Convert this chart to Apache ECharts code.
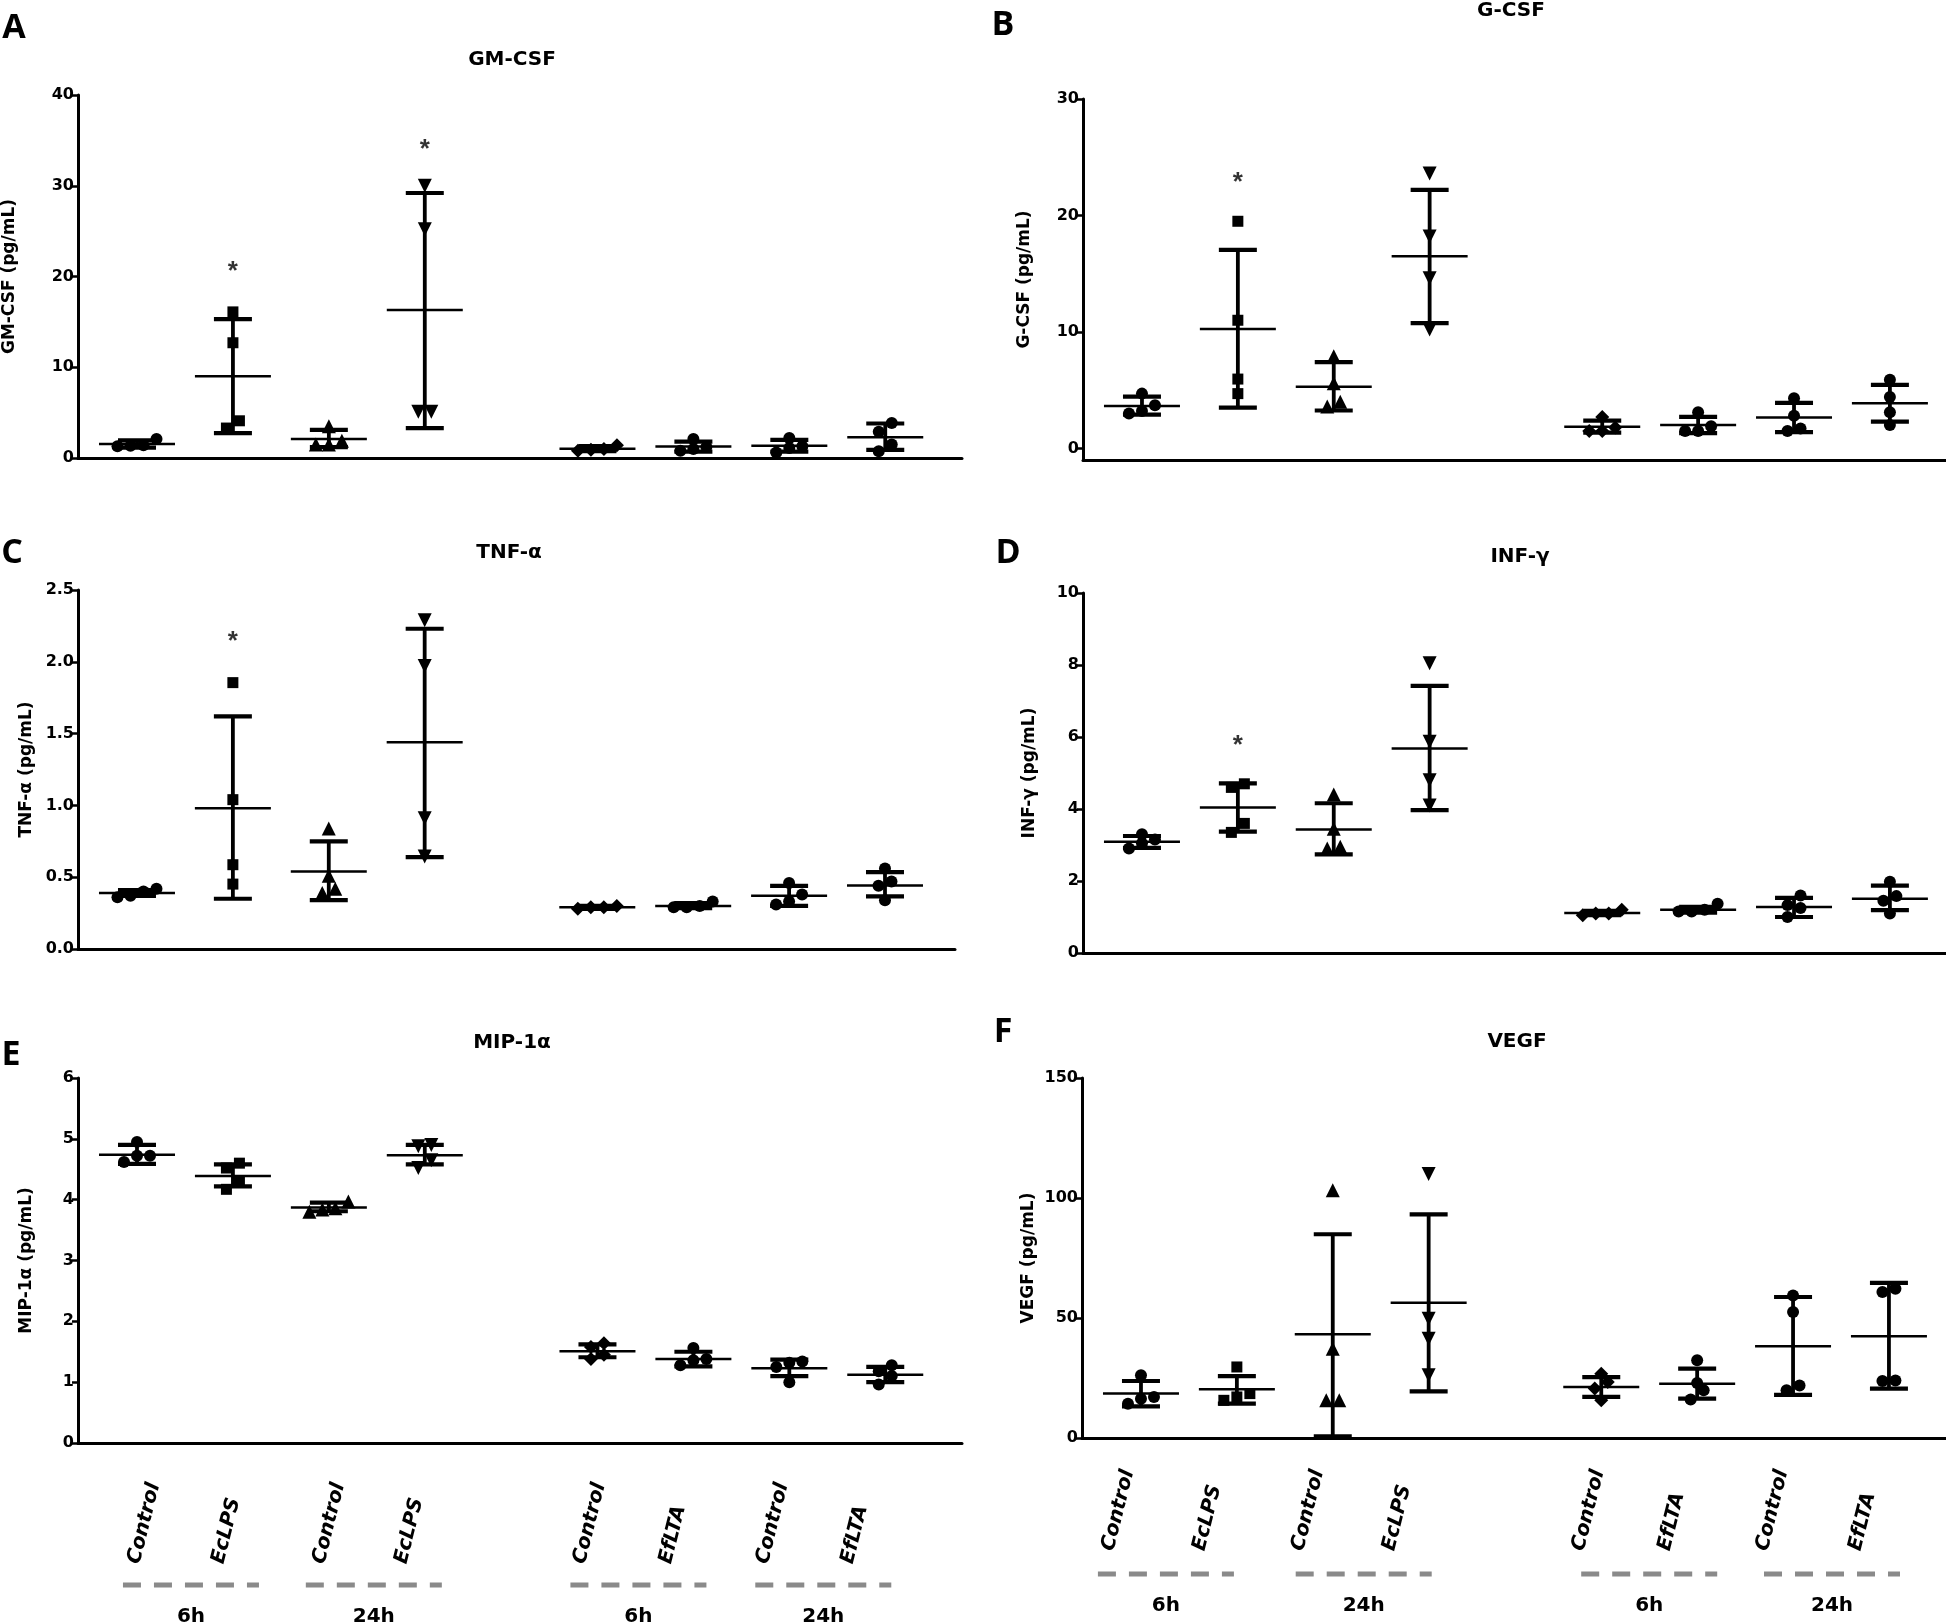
<!DOCTYPE html>
<html><head><meta charset="utf-8">
<script src="https://cdn.jsdelivr.net/npm/echarts@6/dist/echarts.min.js"></script>
<style>html,body{margin:0;padding:0;background:#fff}#c{width:1946px;height:1624px}</style>
</head><body><div id="c"></div>
<script>
// ---------------- DATA ----------------
const categories = ['Control', 'EcLPS', 'Control', 'EcLPS', 'Control', 'EfLTA', 'Control', 'EfLTA'];
const timeGroups = ['6h', '24h', '6h', '24h'];
const groupPositions = [1, 2, 3, 4, 5.8, 6.8, 7.8, 8.8];

// GM-CSF
const gmcsfPoints = [[1.3, 1.35, 1.4, 2.1], [16.1, 12.7, 4.1, 3.3], [3.5, 1.5, 1.5, 1.9], [30, 25.2, 5.1, 5.1],
  [0.8, 0.9, 1.0, 1.4], [0.8, 1.0, 1.2, 2.1], [0.6, 1.1, 1.3, 2.2], [0.75, 1.5, 2.9, 3.85]];
const gmcsfMean = [1.55, 9.0, 2.1, 16.3, 1.03, 1.28, 1.36, 2.3];
const gmcsfLow = [1.15, 2.75, 1.2, 3.3, 0.75, 0.7, 0.7, 0.9];
const gmcsfHigh = [1.95, 15.3, 3.1, 29.2, 1.3, 1.8, 2.0, 3.8];
const gmcsfStars = [[1, 21.3], [3, 34.75]];
const gmcsfTicks = [0, 10, 20, 30, 40];

// G-CSF
const gcsfPoints = [[4.7, 3.7, 3.0, 3.2], [19.5, 11.0, 5.95, 4.7], [7.9, 5.6, 4.0, 3.6], [23.6, 18.2, 14.6, 10.2],
  [2.7, 1.8, 1.5, 1.5], [3.1, 1.9, 1.5, 1.5], [4.3, 2.8, 1.7, 1.5], [5.9, 4.4, 3.1, 2.0]];
const gcsfMean = [3.64, 10.26, 5.3, 16.5, 1.86, 2.0, 2.64, 3.87];
const gcsfLow = [2.9, 3.5, 3.25, 10.75, 1.35, 1.3, 1.4, 2.3];
const gcsfHigh = [4.45, 17.05, 7.4, 22.2, 2.38, 2.7, 3.9, 5.45];
const gcsfStars = [[1, 23.4]];
const gcsfTicks = [0, 10, 20, 30];

// TNF-alpha
const tnfPoints = [[0.40, 0.37, 0.36, 0.42], [1.855, 1.04, 0.587, 0.452], [0.84, 0.51, 0.42, 0.39], [2.29, 1.97, 0.91, 0.645],
  [0.28, 0.29, 0.29, 0.30], [0.29, 0.29, 0.30, 0.33], [0.46, 0.38, 0.33, 0.31], [0.56, 0.47, 0.44, 0.34]];
const tnfMean = [0.39, 0.98, 0.54, 1.44, 0.29, 0.30, 0.37, 0.443];
const tnfLow = [0.37, 0.35, 0.34, 0.64, 0.28, 0.285, 0.30, 0.366];
const tnfHigh = [0.41, 1.62, 0.75, 2.23, 0.30, 0.32, 0.44, 0.535];
const tnfStars = [[1, 2.19]];
const tnfTicks = [0, 0.5, 1.0, 1.5, 2.0, 2.5];

// INF-gamma
const infPoints = [[3.3, 3.15, 3.05, 2.9], [4.7, 4.6, 3.6, 3.35], [4.4, 3.45, 2.95, 2.9], [8.05, 5.87, 4.8, 4.1],
  [1.05, 1.1, 1.1, 1.2], [1.15, 1.15, 1.2, 1.37], [1.6, 1.33, 1.25, 1.0], [1.98, 1.58, 1.45, 1.1]];
const infMean = [3.09, 4.04, 3.43, 5.68, 1.11, 1.2, 1.28, 1.51];
const infLow = [2.92, 3.37, 2.74, 3.97, 1.05, 1.12, 1.0, 1.19];
const infHigh = [3.25, 4.71, 4.16, 7.42, 1.17, 1.28, 1.53, 1.87];
const infStars = [[1, 5.95]];
const infTicks = [0, 2, 4, 6, 8, 10];

// MIP-1alpha
const mipPoints = [[4.95, 4.72, 4.72, 4.62], [4.6, 4.52, 4.3, 4.17], [3.97, 3.86, 3.84, 3.8], [4.9, 4.88, 4.65, 4.52],
  [1.64, 1.58, 1.45, 1.38], [1.56, 1.38, 1.36, 1.28], [1.34, 1.32, 1.25, 1.0], [1.28, 1.18, 1.1, 0.96]];
const mipMean = [4.74, 4.39, 3.87, 4.73, 1.51, 1.38, 1.23, 1.12];
const mipLow = [4.59, 4.22, 3.81, 4.58, 1.41, 1.26, 1.1, 1.0];
const mipHigh = [4.9, 4.58, 3.95, 4.9, 1.62, 1.5, 1.37, 1.25];
const mipStars = [];
const mipTicks = [0, 1, 2, 3, 4, 5, 6];

// VEGF
const vegfPoints = [[26.1, 17.1, 16.4, 14.3], [29.6, 18.5, 17.1, 15.7], [103.2, 37.2, 15.7, 15.7], [110, 49.7, 41.4, 26.1],
  [26.8, 23.3, 20.6, 15.7], [32.4, 22.9, 19.9, 16], [59.4, 52.5, 21.9, 19.9], [62.2, 60.8, 24.0, 23.75]];
const vegfMean = [18.5, 20.3, 43.2, 56.4, 21.25, 22.6, 38.2, 42.4];
const vegfLow = [13.2, 14.3, 0.7, 19.4, 17.1, 16.4, 18, 20.6];
const vegfHigh = [23.75, 25.8, 84.9, 93.2, 25.4, 28.9, 58.75, 64.6];
const vegfStars = [];
const vegfTicks = [0, 50, 100, 150];

// ---------------- LAYOUT ----------------
const symbolKinds = [
  {symbol: 'circle', size: 12, rot: 0},
  {symbol: 'rect', size: 11, rot: 0},
  {symbol: 'triangle', size: 14, rot: 0},
  {symbol: 'triangle', size: 14, rot: 180},
  {symbol: 'diamond', size: 14, rot: 0},
  {symbol: 'circle', size: 12, rot: 0},
  {symbol: 'circle', size: 12, rot: 0},
  {symbol: 'circle', size: 12, rot: 0}
];

const panels = [
  {letter: 'A', letterPos: [14, 28], title: 'GM-CSF', titlePos: [512, 60], yName: 'GM-CSF (pg/mL)', nameGap: 60,
   grid: {left: 78, top: 95, width: 884, height: 363}, ymin: 0, ymax: 40, xmin: 0.385, xmax: 9.6,
   pts: gmcsfPoints, mean: gmcsfMean, lo: gmcsfLow, hi: gmcsfHigh, stars: gmcsfStars, ticks: gmcsfTicks, dec: 0},
  {letter: 'B', letterPos: [1003, 25], title: 'G-CSF', titlePos: [1511, 11], yName: 'G-CSF (pg/mL)', nameGap: 50,
   grid: {left: 1083, top: 99, width: 863, height: 361}, ymin: -1, ymax: 30, xmin: 0.385, xmax: 9.385,
   pts: gcsfPoints, mean: gcsfMean, lo: gcsfLow, hi: gcsfHigh, stars: gcsfStars, ticks: gcsfTicks, dec: 0},
  {letter: 'C', letterPos: [12, 553], title: 'TNF-\u03B1', titlePos: [509, 553], yName: 'TNF-\u03B1 (pg/mL)', nameGap: 43,
   grid: {left: 78, top: 590, width: 877, height: 359}, ymin: 0, ymax: 2.5, xmin: 0.385, xmax: 9.53,
   pts: tnfPoints, mean: tnfMean, lo: tnfLow, hi: tnfHigh, stars: tnfStars, ticks: tnfTicks, dec: 1},
  {letter: 'D', letterPos: [1008, 553], title: 'INF-\u03B3', titlePos: [1520, 557], yName: 'INF-\u03B3 (pg/mL)', nameGap: 45,
   grid: {left: 1083, top: 593, width: 863, height: 360}, ymin: 0, ymax: 10, xmin: 0.385, xmax: 9.385,
   pts: infPoints, mean: infMean, lo: infLow, hi: infHigh, stars: infStars, ticks: infTicks, dec: 0},
  {letter: 'E', letterPos: [11, 1055], title: 'MIP-1\u03B1', titlePos: [512, 1043], yName: 'MIP-1\u03B1 (pg/mL)', nameGap: 43,
   grid: {left: 78, top: 1078, width: 884, height: 365}, ymin: 0, ymax: 6, xmin: 0.385, xmax: 9.6,
   pts: mipPoints, mean: mipMean, lo: mipLow, hi: mipHigh, stars: mipStars, ticks: mipTicks, dec: 0,
   cats: {labelDy: 123, dashDy: 142, groupDy: 174,
     labelShift: [11, -1, 4, -10, -4, -14, -13, -24], pairShift: [6, -3, -7, -14]}},
  {letter: 'F', letterPos: [1003, 1032], title: 'VEGF', titlePos: [1517, 1042], yName: 'VEGF (pg/mL)', nameGap: 45,
   grid: {left: 1082, top: 1078, width: 864, height: 360}, ymin: 0, ymax: 150, xmin: 0.385, xmax: 9.395,
   pts: vegfPoints, mean: vegfMean, lo: vegfLow, hi: vegfHigh, stars: vegfStars, ticks: vegfTicks, dec: 0,
   cats: {labelDy: 115, dashDy: 136, groupDy: 168,
     labelShift: [-19, -24, -21, -26, -9, -19, -17, -20], pairShift: [-23, -17, 0, -9]}}
];

const BIN_PX = 11, SPREAD_PX = 13;
function swarmOffsets(vals, pxPerY) {
  const idx = vals.map((v, i) => i).sort((a, b) => vals[a] - vals[b]);
  const off = new Array(vals.length).fill(0);
  let i = 0;
  while (i < idx.length) {
    let j = i + 1;
    while (j < idx.length && (vals[idx[j]] - vals[idx[i]]) * pxPerY < BIN_PX) j++;
    const k = j - i;
    for (let t = 0; t < k; t++) off[idx[i + t]] = (t - (k - 1) / 2) * SPREAD_PX;
    i = j;
  }
  return off;
}

const FONT = '"DejaVu Sans", "Liberation Sans", sans-serif';
const grids = [], xAxes = [], yAxes = [], series = [];

panels.forEach((p, pi) => {
  grids.push(Object.assign({outerBoundsMode: 'none', containLabel: false}, p.grid));
  xAxes.push({
    type: 'value', gridIndex: pi, min: p.xmin, max: p.xmax,
    axisLine: {show: true, onZero: false, lineStyle: {color: '#000', width: 3}},
    axisTick: {show: false}, axisLabel: {show: false}, splitLine: {show: false}
  });
  const yax = {
    type: 'value', gridIndex: pi, min: p.ymin, max: p.ymax,
    name: p.yName, nameLocation: 'middle', nameGap: p.nameGap,
    nameTextStyle: {fontFamily: FONT, fontWeight: 'bold', fontSize: 17, color: '#000'},
    axisLine: {show: true, lineStyle: {color: '#000', width: 3}},
    axisTick: {show: true, length: 6, lineStyle: {color: '#000', width: 2.5}, customValues: p.ticks},
    axisLabel: {show: true, margin: 4, fontFamily: FONT, fontWeight: 'bold', fontSize: 16, color: '#000',
      customValues: p.ticks, formatter: v => Number(v).toFixed(p.dec)},
    splitLine: {show: false}
  };
  if (p.ymin === 0) yax.interval = p.ticks[1] - p.ticks[0];
  yAxes.push(yax);

  const pxPerX = p.grid.width / (p.xmax - p.xmin);
  const pxPerY = p.grid.height / (p.ymax - p.ymin);

  // error bars (mean +/- SD) and mean lines
  series.push({
    type: 'custom', xAxisIndex: pi, yAxisIndex: pi, clip: false, z: 3,
    data: groupPositions.map((x, g) => [x, p.mean[g], p.lo[g], p.hi[g]]),
    encode: {x: 0, y: [1, 2, 3]},
    renderItem: (params, api) => {
      const c = api.coord([api.value(0), api.value(1)]);
      const l = api.coord([api.value(0), api.value(2)]);
      const h = api.coord([api.value(0), api.value(3)]);
      const st = w => ({stroke: '#000', lineWidth: w, lineCap: 'butt'});
      return {type: 'group', children: [
        {type: 'line', shape: {x1: c[0], y1: l[1], x2: c[0], y2: h[1]}, style: st(3.8)},
        {type: 'line', shape: {x1: c[0] - 19, y1: h[1], x2: c[0] + 19, y2: h[1]}, style: st(4.2)},
        {type: 'line', shape: {x1: c[0] - 19, y1: l[1], x2: c[0] + 19, y2: l[1]}, style: st(4.2)},
        {type: 'line', shape: {x1: c[0] - 38, y1: c[1], x2: c[0] + 38, y2: c[1]}, style: st(2.5)}
      ]};
    }
  });

  // individual points
  const pdata = [];
  p.pts.forEach((vals, g) => {
    const off = swarmOffsets(vals, pxPerY);
    const sk = symbolKinds[g];
    vals.forEach((v, k) => {
      pdata.push({value: [groupPositions[g] + off[k] / pxPerX, v], symbol: sk.symbol, symbolSize: sk.size, symbolRotate: sk.rot});
    });
  });
  series.push({
    type: 'scatter', xAxisIndex: pi, yAxisIndex: pi, clip: false, z: 2,
    itemStyle: {color: '#000', opacity: 1}, data: pdata
  });

  if (p.stars.length) {
    series.push({
      type: 'scatter', xAxisIndex: pi, yAxisIndex: pi, clip: false, z: 4,
      symbol: 'circle', symbolSize: 1, itemStyle: {color: 'rgba(0,0,0,0)'},
      label: {show: true, position: 'inside', formatter: '*', color: '#000', fontSize: 26, fontWeight: 'bold',
        fontFamily: '"Liberation Sans", Arial, sans-serif', offset: [0, 7]},
      data: p.stars.map(s => [groupPositions[s[0]], s[1]])
    });
  }
});

const chart = echarts.init(document.getElementById('c'), null, {renderer: 'canvas'});
chart.setOption({
  backgroundColor: '#fff', animation: false,
  grid: grids, xAxis: xAxes, yAxis: yAxes, series: series
});

// texts: panel letters, titles, category labels
const graphics = [];
panels.forEach((p, pi) => {
  graphics.push({type: 'text', x: p.letterPos[0], y: p.letterPos[1],
    style: {text: p.letter, font: 'bold 34px "Open Sans", "DejaVu Sans", sans-serif', fill: '#000',
      align: 'center', verticalAlign: 'middle', textAlign: 'center', textVerticalAlign: 'middle'}});
  graphics.push({type: 'text', x: p.titlePos[0], y: p.titlePos[1],
    style: {text: p.title, font: 'bold 20px ' + FONT, fill: '#000',
      align: 'center', verticalAlign: 'middle', textAlign: 'center', textVerticalAlign: 'middle'}});
  if (!p.cats) return;
  const y0 = chart.convertToPixel({yAxisIndex: pi}, p.ymin);
  const px = groupPositions.map(x => chart.convertToPixel({xAxisIndex: pi}, x));
  px.forEach((x, ci) => {
    graphics.push({type: 'text', x: x + p.cats.labelShift[ci] - 4, y: y0 + p.cats.labelDy, rotation: 76 * Math.PI / 180,
      style: {text: categories[ci], font: 'italic bold 20px ' + FONT, fill: '#000',
        align: 'left', verticalAlign: 'bottom', textAlign: 'left', textVerticalAlign: 'bottom'}});
  });
  for (let k = 0; k < 4; k++) {
    const mid = (px[2 * k] + px[2 * k + 1]) / 2 + p.cats.pairShift[k];
    graphics.push({type: 'line', shape: {x1: mid - 68, y1: y0 + p.cats.dashDy, x2: mid + 68, y2: y0 + p.cats.dashDy},
      style: {stroke: '#8a8a8a', lineWidth: 5, lineDash: [18, 13]}});
    graphics.push({type: 'text', x: mid, y: y0 + p.cats.groupDy,
      style: {text: timeGroups[k], font: 'bold 20px ' + FONT, fill: '#000',
        align: 'center', verticalAlign: 'middle', textAlign: 'center', textVerticalAlign: 'middle'}});
  }
});
chart.setOption({graphic: graphics});
</script>
</body></html>
